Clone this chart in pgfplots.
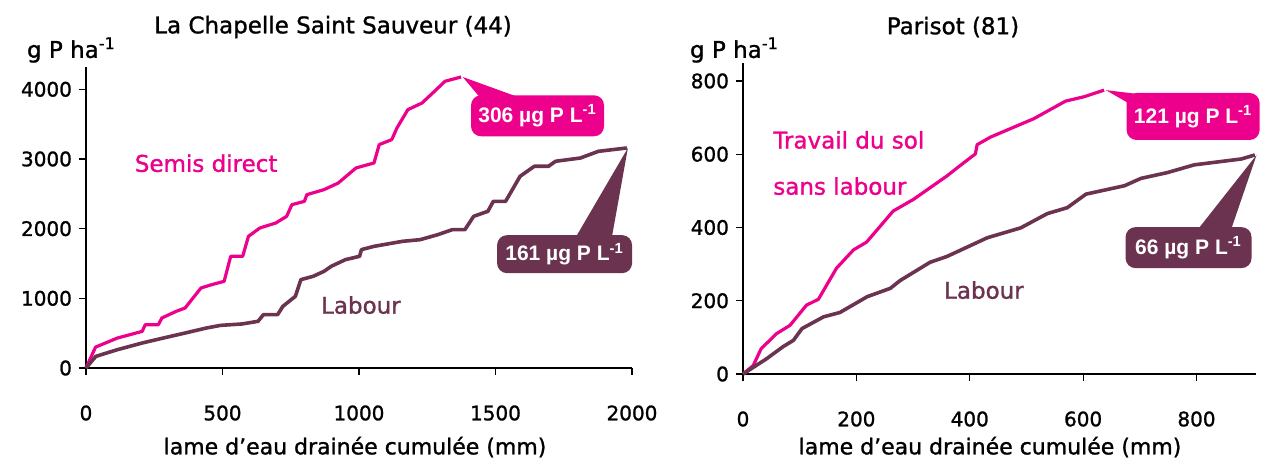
\documentclass[border=0pt]{standalone}
\usepackage{fontspec}
\setmainfont{DejaVu Sans}[FakeBold=1.2]
\newfontfamily\arial{Liberation Sans Bold}
\usepackage{pgfplots}
\pgfplotsset{compat=1.18}
\definecolor{pinkc}{HTML}{EC008C}
\definecolor{purp}{HTML}{6B3350}
\pgfplotsset{
  myax/.style={
    scale only axis, anchor=south west, clip=false,
    axis lines*=left, axis line style={black, line width=0.6pt},
    tick align=outside, major tick length=3.5pt,
    tick style={black, line width=0.6pt},
    /pgf/number format/assume math mode=true,
    /pgf/number format/1000 sep={},
    tick label style={font=\fontsize{10}{12}\selectfont},
    xticklabel style={anchor=center, yshift=-19pt},
    yticklabel style={anchor=east},
  }
}
\begin{document}
\begin{tikzpicture}[x=0.5pt,y=0.5pt]
\useasboundingbox (0,0) rectangle (1263,462);
% titles and labels
\node[font=\fontsize{11.5}{13}\selectfont] at (333,435) {La Chapelle Saint Sauveur (44)};
\node[font=\fontsize{11.5}{13}\selectfont] at (953,435) {Parisot (81)};
\node[anchor=west,font=\fontsize{11.5}{13}\selectfont] at (20,412) {g P ha\textsuperscript{-1}};
\node[anchor=west,font=\fontsize{11.5}{13}\selectfont] at (683,412) {g P ha\textsuperscript{-1}};
\node[font=\fontsize{11}{13}\selectfont] at (355,15) {lame d'eau drainée cumulée (mm)};
\node[font=\fontsize{11}{13}\selectfont] at (990,15) {lame d'eau drainée cumulée (mm)};

\begin{axis}[myax, at={(43pt,47pt)}, width=273pt, height=150.5pt,
  xmin=0, xmax=2000, ymin=0, ymax=4320,
  xtick={0,500,1000,1500,2000}, ytick={0,1000,2000,3000,4000}]
\addplot[pinkc, line width=1.6pt, line join=round] coordinates {
(0,0) (35,300) (115,430) (206,526) (217,622) (265,622) (278,718) (330,813)
(363,861) (421,1148) (460,1196) (506,1244) (530,1603) (574,1603) (595,1890)
(637,2010) (695,2081) (735,2177) (754,2344) (800,2392) (809,2488) (872,2560)
(924,2655) (989,2871) (1055,2943) (1074,3206) (1120,3278) (1139,3445)
(1179,3708) (1231,3804) (1270,3947) (1315,4115) (1374,4177)};
\addplot[purp, line width=1.8pt, line join=round] coordinates {
(0,0) (36,167) (115,263) (206,359) (284,431) (363,502) (441,574) (493,612)
(571,632) (630,670) (650,766) (702,766) (721,885) (767,1029) (787,1268)
(832,1316) (872,1388) (898,1459) (950,1555) (1002,1603) (1009,1699)
(1055,1746) (1159,1818) (1224,1842) (1289,1914) (1342,1986) (1388,1986)
(1420,2177) (1472,2249) (1492,2392) (1537,2392) (1590,2751) (1642,2895)
(1694,2895) (1720,2967) (1811,3014) (1877,3110) (1981,3158)};
\node[pinkc, font=\fontsize{11.5}{13}\selectfont] at (axis cs:440,2939) {Semis direct};
\node[purp, font=\fontsize{11.5}{13}\selectfont] at (axis cs:1007,903) {Labour};
\fill[pinkc] (axis cs:1380,4177) -- (axis cs:1610,3850) -- (axis cs:1450,3850) -- cycle;
\node[fill=pinkc, rounded corners=5pt, minimum width=66.5pt, minimum height=20.5pt, inner sep=0pt,
  text=white, font=\arial\fontsize{10.5}{12}\selectfont] at (axis cs:1654,3620) {306 µg P L\textsuperscript{-1}};
\fill[purp] (axis cs:1985,3158) -- (axis cs:1925,1850) -- (axis cs:1790,1850) -- cycle;
\node[fill=purp, rounded corners=5pt, minimum width=67.5pt, minimum height=19pt, inner sep=0pt,
  text=white, font=\arial\fontsize{10.5}{12}\selectfont] at (axis cs:1753,1634) {161 µg P L\textsuperscript{-1}};
\end{axis}

\begin{axis}[myax, at={(371.5pt,44pt)}, width=256.5pt, height=155.5pt,
  xmin=0, xmax=905, ymin=0, ymax=849,
  xtick={0,200,400,600,800}, ytick={0,200,400,600,800}]
\addplot[pinkc, line width=1.6pt, line join=round] coordinates {
(0,0) (18,23) (32,69) (59,110) (83,133) (112,188) (133,204) (165,289)
(195,339) (218,360) (265,445) (301,477) (360,541) (383,569) (410,601)
(413,626) (437,647) (513,697) (569,745) (602,757) (637,775)};
\addplot[purp, line width=1.8pt, line join=round] coordinates {
(0,0) (41,41) (71,75) (89,92) (104,124) (142,156) (171,168) (219,211)
(260,234) (277,255) (330,305) (360,321) (431,372) (490,399) (537,438)
(572,454) (605,491) (673,514) (702,534) (749,550) (796,571) (879,587) (903,598)};
\node[pinkc, anchor=west, font=\fontsize{11.5}{13}\selectfont] at (axis cs:41,639) {Travail du sol};
\node[pinkc, anchor=west, font=\fontsize{11.5}{13}\selectfont] at (axis cs:41,513) {sans labour};
\node[purp, font=\fontsize{11.5}{13}\selectfont] at (axis cs:425,229) {Labour};
\fill[pinkc] (axis cs:640,775) -- (axis cs:720,760) -- (axis cs:685,735) -- cycle;
\node[fill=pinkc, rounded corners=5pt, minimum width=66.5pt, minimum height=23.5pt, inner sep=0pt,
  text=white, font=\arial\fontsize{10.5}{12}\selectfont] at (axis cs:794,703) {121 µg P L\textsuperscript{-1}};
\fill[purp] (axis cs:906,598) -- (axis cs:860,390) -- (axis cs:800,390) -- cycle;
\node[fill=purp, rounded corners=5pt, minimum width=63pt, minimum height=20.5pt, inner sep=0pt,
  text=white, font=\arial\fontsize{10.5}{12}\selectfont] at (axis cs:786,345) {66 µg P L\textsuperscript{-1}};
\end{axis}
\end{tikzpicture}
\end{document}
